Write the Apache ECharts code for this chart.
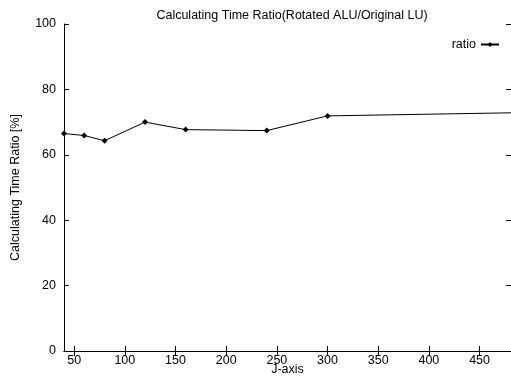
<!DOCTYPE html>
<html>
<head>
<meta charset="utf-8">
<script src="https://cdn.jsdelivr.net/npm/echarts@6/dist/echarts.min.js"></script>
<style>
  html, body { margin: 0; padding: 0; background: #fff; }
  #main { width: 511px; height: 376px; }
</style>
</head>
<body>
<div id="main"></div>
<script>
const jValues = [40, 60, 80, 120, 160, 240, 300, 512];
const ratio = [66.5, 65.9, 64.3, 70.0, 67.7, 67.4, 71.9, 73.0];
const xTicks = [50, 100, 150, 200, 250, 300, 350, 400, 450];
const yTicks = [0, 20, 40, 60, 80, 100];

const font = "Liberation Sans";
const ink = "#000";

const chart = echarts.init(document.getElementById("main"));

const tickStyle = { show: true, inside: true, length: 5, lineStyle: { color: ink, width: 1 } };

const option = {
  animation: false,
  textStyle: { fontFamily: font },
  title: {
    text: "Calculating Time Ratio(Rotated ALU/Original LU)",
    left: 287,
    textAlign: "center",
    top: 4,
    textStyle: { fontSize: 12.5, fontWeight: "normal", color: ink, fontFamily: font },
  },
  grid: { left: 64, right: 0, top: 24, bottom: 25, outerBoundsMode: "none", containLabel: false },
  legend: {
    data: ["ratio"],
    right: 6,
    top: 33,
    align: "right",
    itemWidth: 18,
    itemHeight: 6,
    textStyle: { fontSize: 12.5, color: ink, fontFamily: font },
  },
  xAxis: [
    {
      type: "value",
      min: 40,
      max: 481,
      name: "J-axis",
      nameLocation: "middle",
      nameGap: 12,
      nameMoveOverlap: false,
      nameTextStyle: { fontSize: 12.5, color: ink },
      axisLine: { show: true, lineStyle: { color: ink, width: 1 } },
      axisTick: Object.assign({ customValues: xTicks }, tickStyle),
      axisLabel: { customValues: xTicks, color: ink, fontSize: 12.5, margin: 3 },
      splitLine: { show: false },
    },
    {
      type: "value",
      position: "top",
      min: 40,
      max: 481,
      axisLine: { show: true, lineStyle: { color: ink, width: 1 } },
      axisTick: Object.assign({ customValues: xTicks }, tickStyle),
      axisLabel: { show: false },
      splitLine: { show: false },
    },
  ],
  yAxis: [
    {
      type: "value",
      min: 0,
      max: 100,
      interval: 20,
      name: "Calculating Time Ratio [%]",
      nameLocation: "middle",
      nameGap: 42,
      nameMoveOverlap: false,
      nameTextStyle: { fontSize: 12.5, color: ink },
      axisLine: { show: true, lineStyle: { color: ink, width: 1 } },
      axisTick: Object.assign({ customValues: yTicks }, tickStyle),
      axisLabel: { customValues: yTicks, color: ink, fontSize: 12.5, margin: 8 },
      splitLine: { show: false },
    },
    {
      type: "value",
      position: "right",
      min: 0,
      max: 100,
      interval: 20,
      axisLine: { show: true, lineStyle: { color: ink, width: 1 } },
      axisTick: Object.assign({ customValues: yTicks }, tickStyle),
      axisLabel: { show: false },
      splitLine: { show: false },
    },
  ],
  series: [
    {
      name: "ratio",
      type: "line",
      data: jValues.map((j, i) => [j, ratio[i]]),
      symbol: "diamond",
      symbolSize: 6,
      clip: true,
      lineStyle: { color: ink, width: 1 },
      itemStyle: { color: ink },
    },
  ],
};

chart.setOption(option);
</script>
</body>
</html>
